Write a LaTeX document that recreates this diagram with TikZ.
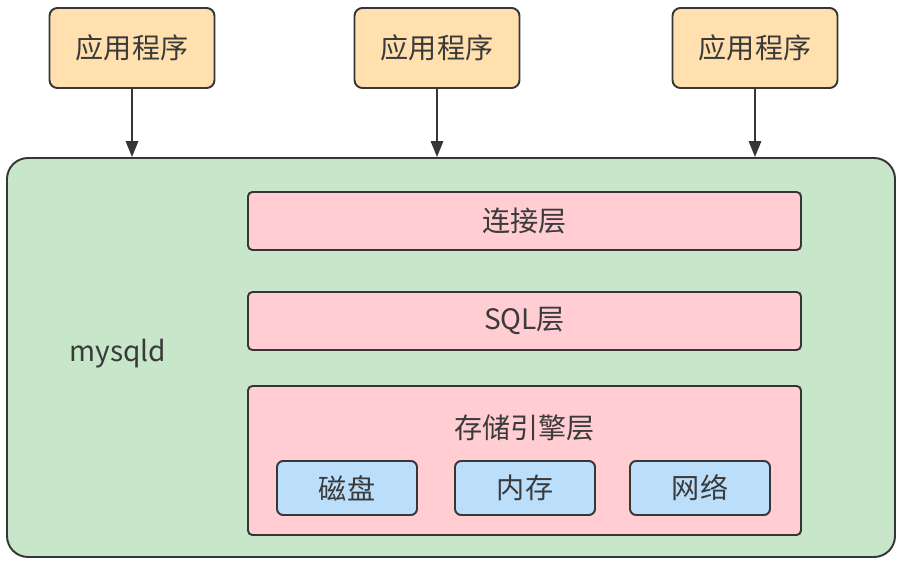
\documentclass[tikz,border=0pt]{standalone}
\usepackage{xcolor}
\usepackage{fontspec}
\usepackage{tikz}
\usetikzlibrary{positioning,arrows.meta}
\newfontfamily\cjk{Noto Sans CJK SC}
\definecolor{appfill}{HTML}{FFE0AE}
\definecolor{srvfill}{HTML}{C8E6C9}
\definecolor{layfill}{HTML}{FFCDD2}
\definecolor{devfill}{HTML}{BBDEFB}
\definecolor{edge}{HTML}{363636}
\definecolor{txt}{HTML}{3A3A3A}

\begin{document}
\begin{tikzpicture}[
  font=\cjk\fontsize{16}{19}\selectfont, text=txt,
  app/.style={draw=edge, line width=1.1pt, rounded corners=4.5pt, fill=appfill,
              minimum width=3.3cm, minimum height=1.6cm},
  srv/.style={draw=edge, line width=1.1pt, rounded corners=0.42cm, fill=srvfill,
              minimum width=17.76cm, minimum height=7.98cm},
  layer/.style={draw=edge, line width=1.1pt, rounded corners=2.5pt, fill=layfill,
                minimum width=11.06cm, minimum height=1.16cm},
  dev/.style={draw=edge, line width=1.1pt, rounded corners=3.5pt, fill=devfill,
              minimum width=2.8cm, minimum height=1.08cm},
  arr/.style={-{Triangle[length=9pt,width=7pt]}, line width=1.1pt, draw=edge},
]
\useasboundingbox (0,0) rectangle (18.06,-11.32);

\node[app] (app1) at (2.64,-0.96)  {应用程序};
\node[app] (app2) at (8.74,-0.96)  {应用程序};
\node[app] (app3) at (15.10,-0.96) {应用程序};

\node[srv] (mysqld) at (9.02,-7.15) {};
\node (mysqldtxt) at (2.36,-7.08) {mysqld};

\node[layer] (conn)  at (10.49,-4.42) {连接层};
\node[layer] (sql)   at (10.49,-6.42) {SQL层};
\node[layer, minimum height=2.98cm] (store) at (10.49,-9.21) {};
\node (storetxt) at (10.49,-8.56) {存储引擎层};

\node[dev] (disk) at (6.94,-9.76)  {磁盘};
\node[dev] (mem)  at (10.50,-9.76) {内存};
\node[dev] (net)  at (14.00,-9.76) {网络};

\draw[arr] (app1.south) -- (app1.south |- mysqld.north);
\draw[arr] (app2.south) -- (app2.south |- mysqld.north);
\draw[arr] (app3.south) -- (app3.south |- mysqld.north);
\end{tikzpicture}
\end{document}
